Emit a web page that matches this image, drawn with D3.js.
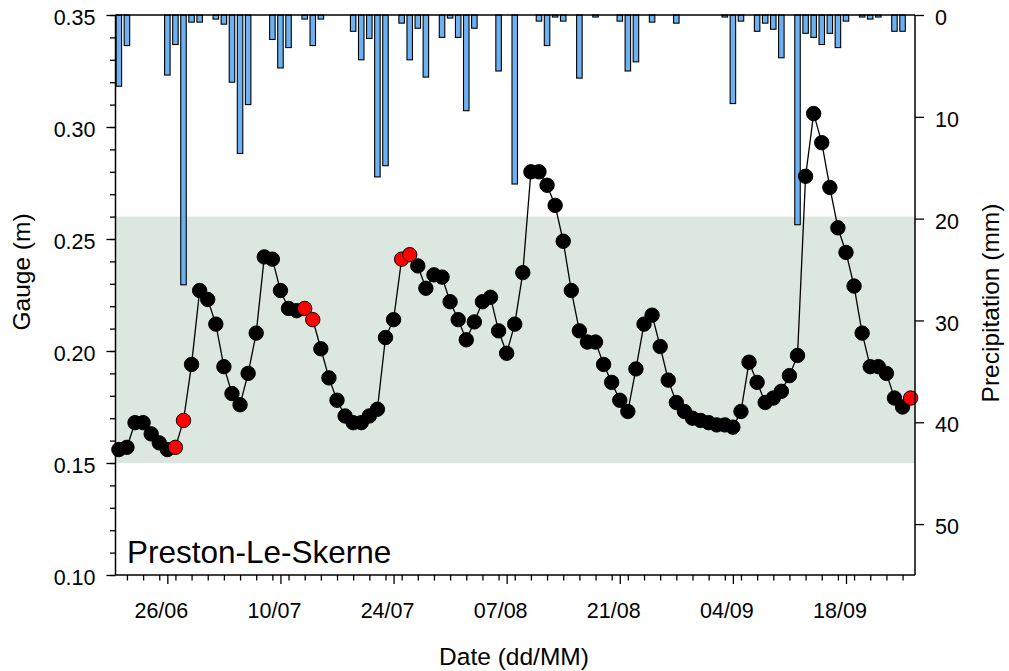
<!DOCTYPE html>
<html>
<head>
<meta charset="utf-8">
<script src="https://cdn.jsdelivr.net/npm/d3@7"></script>
<style>
  html, body { margin: 0; padding: 0; background: #ffffff; }
  svg { display: block; font-family: "Liberation Sans", Arial, sans-serif; }
</style>
</head>
<body>
<svg id="chart" width="1009" height="671"></svg>
<script>
// Daily river gauge level (m) and rainfall (mm), 20 June – 26 September
const firstDay = "2021-06-20";

const gauge = [
  0.156, 0.157, 0.168, 0.168, 0.163, 0.159, 0.156, 0.157, 0.169, 0.194,
  0.227, 0.223, 0.212, 0.193, 0.181, 0.176, 0.190, 0.208, 0.242, 0.241,
  0.227, 0.219, 0.218, 0.219, 0.214, 0.201, 0.188, 0.178, 0.171, 0.168,
  0.168, 0.171, 0.174, 0.206, 0.214, 0.241, 0.243, 0.238, 0.228, 0.234,
  0.233, 0.222, 0.214, 0.205, 0.213, 0.222, 0.224, 0.209, 0.199, 0.212,
  0.235, 0.280, 0.280, 0.274, 0.265, 0.249, 0.227, 0.209, 0.204, 0.204,
  0.194, 0.186, 0.178, 0.173, 0.192, 0.212, 0.216, 0.202, 0.187, 0.177,
  0.173, 0.170, 0.169, 0.168, 0.167, 0.167, 0.166, 0.173, 0.195, 0.186,
  0.177, 0.179, 0.182, 0.189, 0.198, 0.278, 0.306, 0.293, 0.273, 0.255,
  0.244, 0.229, 0.208, 0.193, 0.193, 0.190, 0.179, 0.175, 0.179
];

// 1 = flagged reading (drawn red)
const flagged = [
  0, 0, 0, 0, 0, 0, 0, 1, 1, 0,
  0, 0, 0, 0, 0, 0, 0, 0, 0, 0,
  0, 0, 0, 1, 1, 0, 0, 0, 0, 0,
  0, 0, 0, 0, 0, 1, 1, 0, 0, 0,
  0, 0, 0, 0, 0, 0, 0, 0, 0, 0,
  0, 0, 0, 0, 0, 0, 0, 0, 0, 0,
  0, 0, 0, 0, 0, 0, 0, 0, 0, 0,
  0, 0, 0, 0, 0, 0, 0, 0, 0, 0,
  0, 0, 0, 0, 0, 0, 0, 0, 0, 0,
  0, 0, 0, 0, 0, 0, 0, 0, 1
];

const precip = [
  7.0, 3.0, 0, 0, 0, 0, 5.9, 2.9, 26.5, 0.7,
  0.7, 0, 0.4, 0.9, 6.6, 13.6, 8.8, 0, 0, 2.4,
  5.2, 3.2, 0, 0.4, 3.0, 0.4, 0, 0, 0, 1.6,
  4.4, 2.3, 15.9, 14.8, 0, 0.8, 4.4, 1.3, 6.1, 0,
  2.2, 0.3, 2.2, 9.4, 1.3, 0, 0, 5.5, 0, 16.6,
  0, 0, 0.6, 3.0, 0.2, 0.6, 0, 6.2, 0, 0.2,
  0, 0, 0.6, 5.5, 4.6, 0, 0.7, 0, 0, 0.8,
  0, 0, 0, 0, 0, 0.2, 8.7, 0.6, 0, 1.6,
  0.8, 1.4, 4.2, 0, 20.6, 1.8, 2.2, 2.9, 1.8, 3.2,
  0.6, 0, 0.2, 0.4, 0.2, 0, 1.6, 1.6, 0
];

const dateTickLabels = ["26/06", "10/07", "24/07", "07/08", "21/08", "04/09", "18/09"];
const gaugeTicks = [0.10, 0.15, 0.20, 0.25, 0.30, 0.35];
const precipTicks = [0, 10, 20, 30, 40, 50];
const normalRange = [0.15, 0.26];
const siteName = "Preston-Le-Skerne";

// ---- layout ----
const svg = d3.select("#chart");
const plot = { left: 115.5, right: 915, top: 15, bottom: 575 };

const start = new Date(firstDay + "T00:00:00Z");
const days = gauge.map((_, i) => d3.utcDay.offset(start, i));

const x = d3.scaleUtc()
  .domain([d3.utcHour.offset(start, -10), d3.utcHour.offset(start, 98 * 24 + 13)])
  .range([plot.left, plot.right]);
const yG = d3.scaleLinear().domain([0.10, 0.35]).range([plot.bottom, plot.top]);
const yP = d3.scaleLinear().domain([0, 55]).range([plot.top, plot.bottom]);

const parseTick = d3.utcParse("%d/%m/%Y");
const majorDates = dateTickLabels.map(s => parseTick(s + "/" + firstDay.slice(0, 4)));
const minorDates = days.filter((_, i) => i % 2 === 1);

// normal-range band
svg.append("rect")
  .attr("x", plot.left)
  .attr("width", plot.right - plot.left)
  .attr("y", yG(normalRange[1]))
  .attr("height", yG(normalRange[0]) - yG(normalRange[1]))
  .attr("fill", "#dce8df");

// rainfall bars hanging from the top axis
const barW = 5.5;
svg.append("g")
  .selectAll("rect")
  .data(precip.map((p, i) => ({ p, d: days[i] })).filter(o => o.p > 0))
  .join("rect")
  .attr("x", o => x(o.d) - barW / 2)
  .attr("y", yP(0))
  .attr("width", barW)
  .attr("height", o => yP(o.p) - yP(0))
  .attr("fill", "#6cb2f2")
  .attr("stroke", "#000")
  .attr("stroke-width", 1.1);

// gauge line and points
const series = gauge.map((v, i) => ({ v, d: days[i], f: flagged[i] }));
svg.append("path")
  .datum(series)
  .attr("fill", "none")
  .attr("stroke", "#000")
  .attr("stroke-width", 1.3)
  .attr("d", d3.line().x(o => x(o.d)).y(o => yG(o.v)));

svg.append("g")
  .selectAll("circle")
  .data(series)
  .join("circle")
  .attr("cx", o => x(o.d))
  .attr("cy", o => yG(o.v))
  .attr("r", 7.2)
  .attr("fill", o => o.f ? "#ff0000" : "#000")
  .attr("stroke", "#000")
  .attr("stroke-width", 1);

// ---- axes ----
const tickFont = "21.5px";
const axisColor = "#000";

function styleAxis(g) {
  g.select(".domain").remove();
  g.selectAll("line").attr("stroke", axisColor).attr("stroke-width", 1.3);
  g.selectAll("text").attr("fill", "#000").style("font-size", tickFont)
    .style("font-family", "'Liberation Sans', Arial, sans-serif");
}

// left gauge axis: minor ticks every 0.01
svg.append("g")
  .attr("transform", `translate(${plot.left},0)`)
  .call(d3.axisLeft(yG).tickValues(d3.range(10, 36).map(v => v / 100)).tickSize(5.5).tickFormat(""))
  .call(styleAxis);
svg.append("g")
  .attr("transform", `translate(${plot.left},0)`)
  .call(d3.axisLeft(yG).tickValues(gaugeTicks).tickSize(9).tickPadding(11).tickFormat(d3.format(".2f")))
  .call(styleAxis)
  .call(g => g.selectAll("text").attr("dy", "0.45em"));

// right precipitation axis
svg.append("g")
  .attr("transform", `translate(${plot.right},0)`)
  .call(d3.axisRight(yP).tickValues(precipTicks).tickSize(9).tickPadding(11).tickFormat(d3.format("d")))
  .call(styleAxis)
  .call(g => g.selectAll("text").attr("dy", "0.45em"));

// bottom date axis: minor ticks every second day
svg.append("g")
  .attr("transform", `translate(0,${plot.bottom})`)
  .call(d3.axisBottom(x).tickValues(minorDates).tickSize(5.5).tickFormat(""))
  .call(styleAxis);
svg.append("g")
  .attr("transform", `translate(0,${plot.bottom})`)
  .call(d3.axisBottom(x).tickValues(majorDates).tickSize(9).tickPadding(19)
    .tickFormat((d, i) => dateTickLabels[i]))
  .call(styleAxis)
  .call(g => g.selectAll("text").attr("x", -6.5));

// frame
const frame = svg.append("g").attr("stroke", axisColor).attr("stroke-width", 1.5).attr("fill", "none");
frame.append("line").attr("x1", plot.left).attr("x2", plot.left).attr("y1", plot.top).attr("y2", plot.bottom);
frame.append("line").attr("x1", plot.right).attr("x2", plot.right).attr("y1", plot.top).attr("y2", plot.bottom);
frame.append("line").attr("x1", plot.left).attr("x2", plot.right).attr("y1", plot.bottom).attr("y2", plot.bottom);
frame.append("line").attr("x1", plot.left).attr("x2", plot.right).attr("y1", plot.top).attr("y2", plot.top);

// ---- titles ----
const titleFont = "24.5px";
svg.append("text")
  .attr("x", 514).attr("y", 665)
  .attr("text-anchor", "middle")
  .style("font-size", titleFont)
  .text("Date (dd/MM)");

svg.append("text")
  .attr("transform", "translate(30,272) rotate(-90)")
  .attr("text-anchor", "middle")
  .style("font-size", titleFont)
  .text("Gauge (m)");

svg.append("text")
  .attr("transform", "translate(999,303) rotate(-90)")
  .attr("text-anchor", "middle")
  .style("font-size", titleFont)
  .text("Precipitation (mm)");

svg.append("text")
  .attr("x", 127).attr("y", 563)
  .style("font-size", "31.5px")
  .text(siteName);
</script>
</body>
</html>
